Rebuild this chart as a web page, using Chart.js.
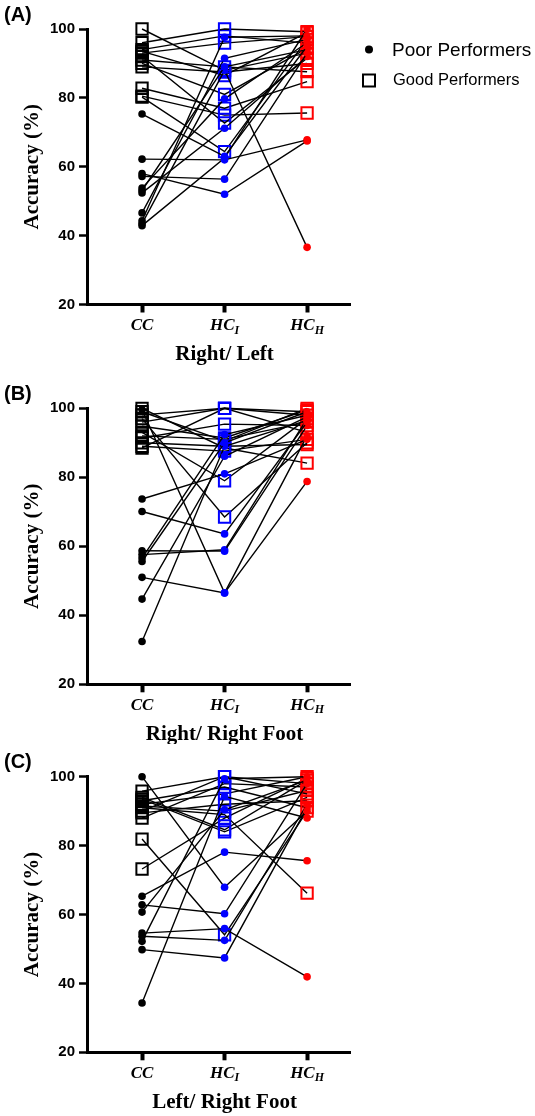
<!DOCTYPE html>
<html>
<head>
<meta charset="utf-8">
<script src="https://cdn.jsdelivr.net/npm/chart.js@4.4.1/dist/chart.umd.min.js"></script>
<style>
  body { margin: 0; background: #fff; }
  #wrap { position: relative; width: 535px; height: 1116px; }
  canvas { position: absolute; left: 0; }
</style>
</head>
<body>
<div id="wrap">
  <canvas id="chartA" width="535" height="372" style="top:0px"></canvas>
  <canvas id="chartB" width="535" height="372" style="top:372px"></canvas>
  <canvas id="chartC" width="535" height="372" style="top:744px"></canvas>
</div>
<script>
// categories (x) and y ticks
const groups = ['CC', 'HC', 'HC'];
const groupSubs = ['', 'I', 'H'];
const yTicks = [20, 40, 60, 80, 100];

// (A) Right/ Left
const aPoorCC  = [75.3, 62.2, 58.0, 57.2, 53.8, 53.1, 52.4, 46.6, 44.3, 43.5, 42.9];
const aPoorHCI = [63.0, 62.0, 52.0, 56.4, 79.7, 89.0, 71.2, 91.5, 97.6, 88.0, 62.5];
const aPoorHCH = [95.0, 67.8, 67.5, 93.0, 96.0, 94.0, 92.0, 97.0, 98.0, 36.6, 100.0];
const aGoodCC  = [100, 96, 94, 93, 92, 91, 90, 89, 82.8, 80.5, 80.2, 93.5];
const aGoodHCI = [88, 100, 98, 95.9, 72.7, 89, 81, 87.5, 77, 75, 64.4, 86.5];
const aGoodHCH = [93, 99.2, 95.9, 97.8, 91.5, 87.6, 94.4, 90, 84.7, 75.6, 97, 99];

// (B) Right/ Right Foot
const bPoorCC  = [99.6, 73.7, 70.1, 58.7, 57.6, 56.6, 55.6, 51.0, 44.7, 32.4];
const bPoorHCI = [46.5, 81.0, 63.6, 58.6, 59.0, 92.4, 90.0, 46.5, 86.1, 89.0];
const bPoorHCH = [78.8, 91.0, 96.0, 95.0, 97.0, 98.0, 99.0, 92.0, 97.5, 96.5];
const bGoodCC  = [100, 98.1, 97, 96, 94.8, 93, 91.4, 90, 89, 88.5, 99, 92];
const bGoodHCI = [88.5, 100, 68.5, 100, 91.4, 79, 95.4, 89, 87.6, 100, 90.5, 91];
const bGoodHCH = [84.1, 99, 90, 98, 99.5, 97, 95, 89.5, 91, 93, 100, 96];

// (C) Left/ Right Foot
const cPoorCC  = [100, 65.3, 62.8, 60.7, 54.6, 53.7, 52.2, 49.8, 34.3];
const cPoorHCI = [67.9, 78.1, 60.2, 90.4, 55.9, 52.5, 99.4, 47.4, 94.3];
const cPoorHCH = [90, 75.6, 98, 99, 41.9, 92, 100, 91, 88];
const cGoodCC  = [95.8, 94, 93, 92, 91, 90, 89.5, 88, 81.9, 73.2, 93.5, 91.5];
const cGoodHCI = [100, 84.6, 97, 95, 89, 100, 92, 98, 54.1, 88, 84, 90];
const cGoodHCH = [95, 99, 91, 100, 66.2, 98, 93, 97, 90, 99.5, 94, 96];

const stageColors = ['#000000', '#0000ff', '#ff0000'];

// one dataset per subject, CC -> HCI -> HCH
function subject(vals, good) {
  return {
    data: vals.map((v, i) => ({ x: i + 1, y: v })),
    borderColor: '#000',
    borderWidth: 1.4,
    pointStyle: good ? 'rect' : 'circle',
    pointRadius: good ? 8 : 3.8,
    pointBorderWidth: good ? 2 : 0,
    pointBorderColor: stageColors,
    pointBackgroundColor: good ? 'rgba(0,0,0,0)' : stageColors,
    clip: false,
    tension: 0
  };
}

const panelText = {
  id: 'panelText',
  afterDraw(chart, args, opts) {
    const ctx = chart.ctx;
    const area = chart.chartArea;
    const xs = chart.scales.x;
    ctx.save();
    ctx.fillStyle = '#000';

    ctx.font = 'bold 20px "Liberation Sans", Arial, sans-serif';
    ctx.textAlign = 'left';
    ctx.textBaseline = 'middle';
    ctx.fillText(opts.letter, 4, area.top - 14);

    ctx.save();
    ctx.translate(33, (area.top + area.bottom) / 2);
    ctx.rotate(-Math.PI / 2);
    ctx.font = 'bold 21px "Liberation Serif", "Times New Roman", serif';
    ctx.textAlign = 'center';
    ctx.fillText('Accuracy (%)', 0, 0);
    ctx.restore();

    const big = 'italic bold 17px "Liberation Serif", "Times New Roman", serif';
    const small = 'italic bold 12px "Liberation Serif", "Times New Roman", serif';
    groups.forEach((g, i) => {
      const px = xs.getPixelForValue(i + 1);
      ctx.font = big;
      const w1 = ctx.measureText(g).width;
      ctx.font = small;
      const w2 = groupSubs[i] ? ctx.measureText(groupSubs[i]).width : 0;
      const left = px - (w1 + w2) / 2;
      const ty = area.bottom + 21;
      ctx.textAlign = 'left';
      ctx.font = big;
      ctx.fillText(g, left, ty);
      if (groupSubs[i]) {
        ctx.font = small;
        ctx.fillText(groupSubs[i], left + w1, ty + 5);
      }
    });

    ctx.font = 'bold 21px "Liberation Serif", "Times New Roman", serif';
    ctx.textAlign = 'center';
    ctx.fillText(opts.xTitle, xs.getPixelForValue(2), area.bottom + 50);

    if (opts.legend) {
      ctx.beginPath();
      ctx.arc(369, 49.5, 4, 0, Math.PI * 2);
      ctx.fill();
      ctx.lineWidth = 2;
      ctx.strokeStyle = '#000';
      ctx.strokeRect(363, 74.5, 12, 12);
      ctx.textAlign = 'left';
      ctx.font = '19px "Liberation Sans", Arial, sans-serif';
      ctx.fillText('Poor Performers', 392, 50.5);
      ctx.font = '16.5px "Liberation Sans", Arial, sans-serif';
      ctx.fillText('Good Performers', 393, 80.5);
    }
    ctx.restore();
  }
};

function makeChart(id, poor, good, pad, letter, xTitle, legend) {
  const datasets = [];
  poor[0].forEach((v, i) => datasets.push(subject([poor[0][i], poor[1][i], poor[2][i]], false)));
  good[0].forEach((v, i) => datasets.push(subject([good[0][i], good[1][i], good[2][i]], true)));

  new Chart(document.getElementById(id), {
    type: 'line',
    data: { datasets: datasets },
    plugins: [panelText],
    options: {
      responsive: false,
      animation: false,
      devicePixelRatio: 1,
      layout: { padding: { left: 0, right: 185, top: pad.top, bottom: pad.bottom } },
      plugins: {
        legend: { display: false },
        tooltip: { enabled: false },
        panelText: { letter: letter, xTitle: xTitle, legend: legend }
      },
      scales: {
        x: {
          type: 'linear',
          min: 0.333,
          max: 3.52,
          afterBuildTicks: s => { s.ticks = groups.map((g, i) => ({ value: i + 1 })); },
          afterFit: s => { s.height = 10; },
          ticks: { callback: () => '', padding: 0 },
          grid: { drawOnChartArea: false, drawTicks: true, tickLength: 8, tickWidth: 4, tickColor: '#000' },
          border: { color: '#000', width: 3 }
        },
        y: {
          min: 20,
          max: 100,
          afterBuildTicks: s => { s.ticks = yTicks.map(v => ({ value: v })); },
          afterFit: s => { s.width = 87; },
          ticks: {
            color: '#000',
            padding: 4,
            font: { family: '"Liberation Sans", Arial, sans-serif', weight: 'bold', size: 15 }
          },
          grid: { drawOnChartArea: false, drawTicks: true, tickLength: 8, tickWidth: 2.5, tickColor: '#000' },
          border: { color: '#000', width: 3 }
        }
      }
    }
  });
}

makeChart('chartA', [aPoorCC, aPoorHCI, aPoorHCH], [aGoodCC, aGoodHCI, aGoodHCH],
  { top: 29, bottom: 57.5 }, '(A)', 'Right/ Left', true);
makeChart('chartB', [bPoorCC, bPoorHCI, bPoorHCH], [bGoodCC, bGoodHCI, bGoodHCH],
  { top: 36.3, bottom: 49.7 }, '(B)', 'Right/ Right Foot', false);
makeChart('chartC', [cPoorCC, cPoorHCI, cPoorHCH], [cGoodCC, cGoodHCI, cGoodHCH],
  { top: 32.7, bottom: 53.7 }, '(C)', 'Left/ Right Foot', false);
</script>
</body>
</html>
